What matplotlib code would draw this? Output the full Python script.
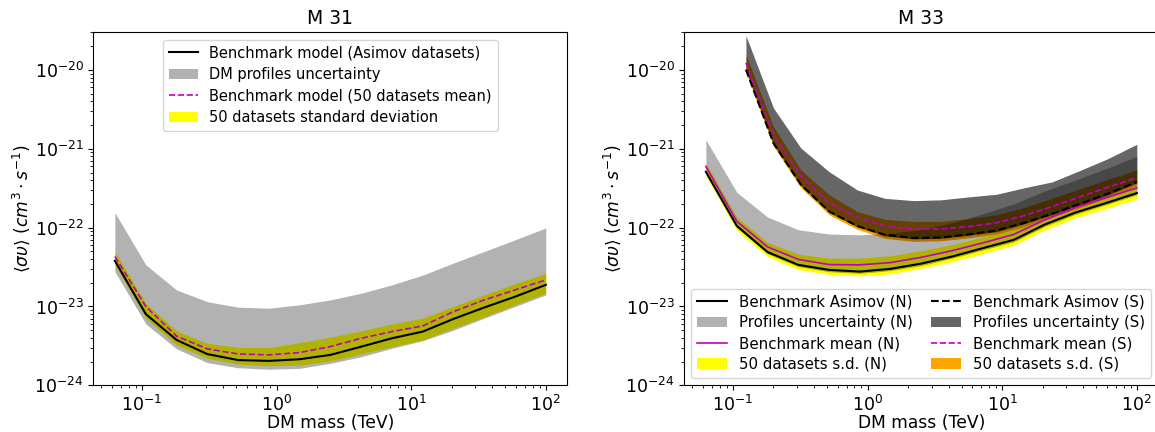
import numpy as np
import matplotlib.pyplot as plt

# DM masses (TeV) of the two grids
mass_n = [0.063, 0.107, 0.181, 0.306, 0.518, 0.877, 1.48, 2.51, 4.25, 7.2,
          12.2, 20.6, 34.9, 59.1, 100.0]
mass_s = [0.125, 0.2, 0.32, 0.52, 0.84, 1.35, 2.2, 3.5, 5.6, 9.1,
          14.6, 23.5, 37.8, 61.0, 100.0]

# M 31 limits (cm^3 s^-1)
m31_asimov = [3.8e-23, 8.0e-24, 3.76e-24, 2.49e-24, 2.09e-24, 2.04e-24, 2.14e-24, 2.43e-24,
              3.09e-24, 3.95e-24, 4.8e-24, 6.95e-24, 9.7e-24, 1.33e-23, 1.88e-23]
m31_mean = [4.3e-23, 1.0e-23, 4.2e-24, 2.9e-24, 2.5e-24, 2.43e-24, 2.6e-24, 3.1e-24,
            3.95e-24, 4.8e-24, 5.66e-24, 8.6e-24, 1.21e-23, 1.62e-23, 2.17e-23]
m31_sd_hi = [4.98e-23, 1.1e-23, 4.9e-24, 3.4e-24, 3.04e-24, 3.0e-24, 3.48e-24, 4.07e-24,
             4.9e-24, 6.0e-24, 7.1e-24, 1.0e-23, 1.4e-23, 1.94e-23, 2.64e-23]
m31_sd_lo = [3.37e-23, 7.1e-24, 3.25e-24, 2.2e-24, 1.86e-24, 1.77e-24, 1.8e-24, 2.03e-24,
             2.5e-24, 3.09e-24, 3.76e-24, 5.3e-24, 7.4e-24, 1.05e-23, 1.47e-23]
m31_prof_hi = [1.55e-22, 3.37e-23, 1.62e-23, 1.15e-23, 9.8e-24, 9.5e-24, 1.05e-23, 1.21e-23,
               1.47e-23, 1.88e-23, 2.5e-23, 3.55e-23, 4.98e-23, 7.0e-23, 9.9e-23]
m31_prof_lo = [2.77e-23, 6.0e-24, 2.9e-24, 1.94e-24, 1.67e-24, 1.6e-24, 1.64e-24, 1.9e-24,
               2.3e-24, 2.95e-24, 3.68e-24, 5.0e-24, 7.1e-24, 1.0e-23, 1.4e-23]

# M 33, north field
n_asimov = [5.1e-22, 1.05e-22, 4.9e-23, 3.37e-23, 2.91e-23, 2.77e-23, 3.0e-23, 3.5e-23,
            4.3e-23, 5.5e-23, 7.0e-23, 1.09e-22, 1.55e-22, 2.05e-22, 2.74e-22]
n_mean = [5.97e-22, 1.2e-22, 5.7e-23, 3.95e-23, 3.4e-23, 3.37e-23, 3.6e-23, 4.2e-23,
          5.1e-23, 6.4e-23, 8.2e-23, 1.25e-22, 1.8e-22, 2.4e-22, 3.18e-22]
n_sd_hi = [6.6e-22, 1.35e-22, 6.5e-23, 4.6e-23, 4.1e-23, 4.1e-23, 4.4e-23, 5.1e-23,
           6.1e-23, 7.6e-23, 9.7e-23, 1.45e-22, 2.1e-22, 2.8e-22, 3.74e-22]
n_sd_lo = [4.5e-22, 9.2e-23, 4.3e-23, 2.95e-23, 2.55e-23, 2.44e-23, 2.6e-23, 3.05e-23,
           3.7e-23, 4.7e-23, 6.0e-23, 9.3e-23, 1.33e-22, 1.75e-22, 2.3e-22]
n_prof_hi = [1.3e-21, 2.8e-22, 1.36e-22, 9.4e-23, 8.3e-23, 8.1e-23, 8.5e-23, 9.5e-23,
             1.15e-22, 1.5e-22, 2.0e-22, 2.9e-22, 4.0e-22, 5.6e-22, 8.0e-22]
n_prof_lo = [4.85e-22, 1.0e-22, 4.65e-23, 3.2e-23, 2.76e-23, 2.63e-23, 2.85e-23, 3.3e-23,
             4.1e-23, 5.2e-23, 6.6e-23, 1.03e-22, 1.47e-22, 1.95e-22, 2.6e-22]

# M 33, south field
s_asimov = [1.01e-20, 1.18e-21, 3.5e-22, 1.6e-22, 1.05e-22, 8.1e-23, 7.4e-23, 7.5e-23,
            8.2e-23, 9.2e-23, 1.15e-22, 1.5e-22, 2.0e-22, 2.7e-22, 3.8e-22]
s_mean = [1.23e-20, 1.5e-21, 4.5e-22, 2.05e-22, 1.35e-22, 1.05e-22, 9.6e-23, 9.6e-23,
          1.03e-22, 1.15e-22, 1.42e-22, 1.85e-22, 2.45e-22, 3.25e-22, 4.3e-22]
s_sd_hi = [1.56e-20, 1.92e-21, 5.4e-22, 2.6e-22, 1.6e-22, 1.27e-22, 1.2e-22, 1.2e-22,
           1.3e-22, 1.45e-22, 1.8e-22, 2.35e-22, 3.1e-22, 4.1e-22, 5.4e-22]
s_sd_lo = [9.3e-21, 1.08e-21, 3.2e-22, 1.45e-22, 9.5e-23, 7.3e-23, 6.7e-23, 6.8e-23,
           7.4e-23, 8.3e-23, 1.03e-22, 1.35e-22, 1.8e-22, 2.4e-22, 3.4e-22]
s_prof_hi = [2.72e-20, 3.3e-21, 1.02e-21, 5.1e-22, 3.0e-22, 2.35e-22, 2.2e-22, 2.25e-22,
             2.45e-22, 2.65e-22, 3.2e-22, 3.8e-22, 5.3e-22, 7.5e-22, 1.14e-21]
s_prof_lo = [9.8e-21, 1.14e-21, 3.4e-22, 1.55e-22, 1.02e-22, 7.85e-23, 7.2e-23, 7.3e-23,
             8.0e-23, 8.9e-23, 1.12e-22, 1.46e-22, 1.94e-22, 2.6e-22, 3.7e-22]

ylab = r'$\langle \sigma \upsilon \rangle\ (cm^3 \cdot s^{-1})$'

fig = plt.figure(figsize=(11.55, 4.32), dpi=100)
ax1 = fig.add_axes([0.0808, 0.1081, 0.4104, 0.8171])
ax2 = fig.add_axes([0.5925, 0.1081, 0.4104, 0.8171])

# M 31
ax1.fill_between(mass_n, m31_sd_lo, m31_sd_hi, color='yellow', lw=0,
                 label='50 datasets standard deviation')
ax1.fill_between(mass_n, m31_prof_lo, m31_prof_hi, color='k', alpha=0.3, lw=0,
                 label='DM profiles uncertainty')
ax1.plot(mass_n, m31_asimov, 'k-', label='Benchmark model (Asimov datasets)')
ax1.plot(mass_n, m31_mean, 'm--', lw=1.2, label='Benchmark model (50 datasets mean)')
h, l = ax1.get_legend_handles_labels()
order = [2, 1, 3, 0]
ax1.legend([h[i] for i in order], [l[i] for i in order], loc='upper center',
           fontsize=10.5, labelspacing=0.45)
ax1.set_title('M 31', fontsize=13.5)

# M 33
ax2.fill_between(mass_n, n_sd_lo, n_sd_hi, color='yellow', lw=0, label='50 datasets s.d. (N)')
ax2.fill_between(mass_s, s_sd_lo, s_sd_hi, color='orange', lw=0, label='50 datasets s.d. (S)')
ax2.fill_between(mass_n, n_prof_lo, n_prof_hi, color='k', alpha=0.3, lw=0,
                 label='Profiles uncertainty (N)')
ax2.fill_between(mass_s, s_prof_lo, s_prof_hi, color='k', alpha=0.6, lw=0,
                 label='Profiles uncertainty (S)')
ax2.plot(mass_n, n_asimov, 'k-', label='Benchmark Asimov (N)')
ax2.plot(mass_s, s_asimov, 'k--', label='Benchmark Asimov (S)')
ax2.plot(mass_n, n_mean, 'm-', lw=1.2, label='Benchmark mean (N)')
ax2.plot(mass_s, s_mean, 'm--', lw=1.2, label='Benchmark mean (S)')
h, l = ax2.get_legend_handles_labels()
order = [4, 2, 6, 0, 5, 3, 7, 1]
ax2.legend([h[i] for i in order], [l[i] for i in order], loc='lower right', ncol=2,
           fontsize=10.8, labelspacing=0.38, columnspacing=1.2)
ax2.set_title('M 33', fontsize=13.5)

for ax in (ax1, ax2):
    ax.set_xscale('log')
    ax.set_yscale('log')
    ax.set_ylim(1e-24, 3e-20)
    ax.set_xlabel('DM mass (TeV)', fontsize=12.3, labelpad=-0.5)
    ax.set_ylabel(ylab, fontsize=12.3, labelpad=2)
    ax.tick_params(labelsize=12.5)

fig.savefig('out.png', dpi=100)
